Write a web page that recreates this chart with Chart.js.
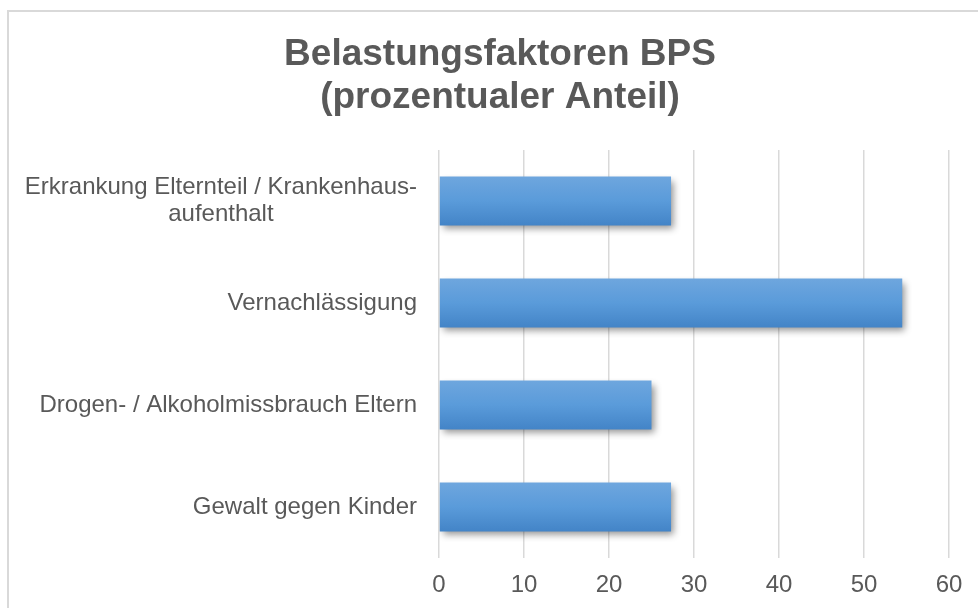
<!DOCTYPE html>
<html>
<head>
<meta charset="utf-8">
<script src="https://cdn.jsdelivr.net/npm/chart.js@4/dist/chart.umd.min.js"></script>
<style>
  html, body { margin: 0; padding: 0; background: #ffffff; overflow: hidden; }
  #wrap { position: relative; width: 978px; height: 608px; }
</style>
</head>
<body>
<div id="wrap"><canvas id="c" width="978" height="608"></canvas></div>
<script>
// ---- data ----
const titleLines = ['Belastungsfaktoren BPS', '(prozentualer Anteil)'];
const categories = [
  ['Erkrankung Elternteil / Krankenhaus-', 'aufenthalt'],
  'Vernachlässigung',
  'Drogen- / Alkoholmissbrauch Eltern',
  'Gewalt gegen Kinder'
];
const values = [27.3, 54.5, 25.0, 27.3];
const xTicks = [0, 10, 20, 30, 40, 50, 60];

const FONT = "'Liberation Sans', Arial, sans-serif";
const TEXT = '#595959';

const framePlugin = {
  id: 'frame',
  beforeDraw(chart) {
    const ctx = chart.ctx;
    ctx.save();
    ctx.fillStyle = '#ffffff';
    ctx.fillRect(0, 0, chart.width, chart.height);
    ctx.strokeStyle = '#d9d9d9';
    ctx.lineWidth = 2;
    ctx.strokeRect(8, 11, chart.width + 50, chart.height + 50);
    ctx.restore();
  }
};

const barStylePlugin = {
  id: 'barStyle',
  beforeDatasetsDraw(chart) {
    const ctx = chart.ctx;
    const meta = chart.getDatasetMeta(0);
    meta.data.forEach(el => {
      const top = el.y - el.height / 2;
      const bot = el.y + el.height / 2;
      const g = ctx.createLinearGradient(0, top, 0, bot);
      g.addColorStop(0, '#6ea6de');
      g.addColorStop(0.5, '#5a9bda');
      g.addColorStop(1, '#4384c7');
      el.options = Object.assign({}, el.options, { backgroundColor: g });
    });
    ctx.save();
    ctx.shadowColor = 'rgba(0,0,0,0.42)';
    ctx.shadowBlur = 7;
    ctx.shadowOffsetX = 3;
    ctx.shadowOffsetY = 4;
  },
  afterDatasetsDraw(chart) {
    chart.ctx.restore();
  }
};

const catLabelPlugin = {
  id: 'catLabels',
  afterDraw(chart) {
    const ctx = chart.ctx;
    const y = chart.scales.y;
    const right = chart.chartArea.left - 22;
    const lh = 27;
    ctx.save();
    ctx.font = '24px ' + FONT;
    ctx.fillStyle = TEXT;
    ctx.textBaseline = 'middle';
    categories.forEach((lab, i) => {
      const lines = Array.isArray(lab) ? lab : [lab];
      const cy = y.getPixelForValue(i);
      const widest = Math.max(...lines.map(l => ctx.measureText(l).width));
      const cx = right - widest / 2;
      ctx.textAlign = 'center';
      lines.forEach((l, k) => {
        const ly = cy + (k - (lines.length - 1) / 2) * lh;
        ctx.fillText(l, cx, ly);
      });
    });
    ctx.restore();
  }
};

new Chart(document.getElementById('c'), {
  type: 'bar',
  data: {
    labels: categories,
    datasets: [{
      data: values,
      backgroundColor: '#5b9bd5',
      borderWidth: 0,
      barPercentage: 0.48,
      categoryPercentage: 1.0
    }]
  },
  options: {
    indexAxis: 'y',
    responsive: false,
    animation: false,
    events: [],
    layout: { padding: { left: 51, right: 29, top: 0, bottom: 0 } },
    plugins: {
      legend: { display: false },
      tooltip: { enabled: false },
      title: {
        display: true,
        text: titleLines,
        color: TEXT,
        font: { family: FONT, size: 37, weight: 'bold', lineHeight: 43 / 37 },
        padding: { top: 33, bottom: 31 }
      }
    },
    scales: {
      x: {
        type: 'linear',
        min: 0,
        max: 60,
        afterBuildTicks(scale) { scale.ticks = xTicks.map(v => ({ value: v })); },
        afterFit(scale) { scale.height = 50; },
        grid: { color: '#d9d9d9', lineWidth: 1.5, drawTicks: false },
        border: { display: false },
        ticks: { color: TEXT, font: { family: FONT, size: 24 }, padding: 13 }
      },
      y: {
        grid: { display: false },
        border: { display: false },
        ticks: { display: false },
        afterFit(scale) { scale.width = 388; }
      }
    }
  },
  plugins: [framePlugin, barStylePlugin, catLabelPlugin]
});
</script>
</body>
</html>
